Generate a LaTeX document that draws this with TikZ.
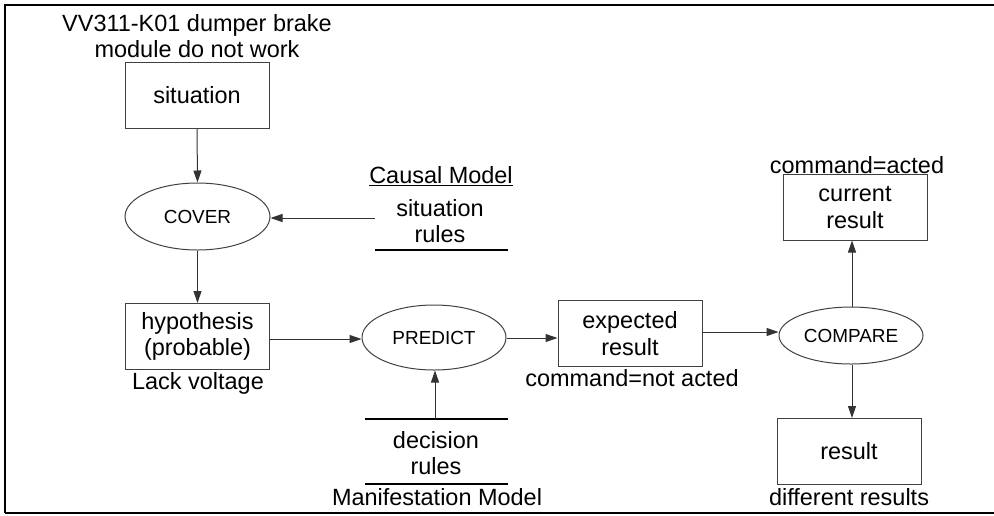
\documentclass[tikz,border=0pt]{standalone}
\usepackage{fontspec}
\setmainfont{Liberation Sans}
\usetikzlibrary{arrows.meta,shapes.geometric}
\begin{document}
\begin{tikzpicture}[x=0.75pt,y=-0.75pt,
  txt/.style={inner sep=0pt,align=center,font=\fontsize{17.6}{20}\selectfont},
  boxnode/.style={draw=black!75,line width=0.75pt,rectangle,minimum width=108pt,minimum height=49.5pt,inner sep=0pt,align=center,font=\fontsize{17.6}{20}\selectfont},
  ellnode/.style={draw=black!75,line width=0.75pt,ellipse,inner sep=0pt,align=center,font=\fontsize{14.2}{16}\selectfont},
  conn/.style={draw=black!80,line width=0.75pt,-{Triangle[length=9pt,width=6pt]}},
  bar/.style={line width=2.2pt,black},
  frame/.style={line width=2pt,black}]
\useasboundingbox (0,0) rectangle (994,515);
% frame
\draw[frame] (5,513) -- (5,5) -- (994,5);
\draw[frame] (5,513) -- (994,513);
% left column
\node[txt] (title) at (197,36) {VV311-K01 dumper brake\\module do not work};
\node[boxnode] (sit) at (197,95) {situation};
\node[ellnode,minimum width=108.75pt,minimum height=50.25pt] (cover) at (197.5,216.5) {COVER};
\node[boxnode] (hyp) at (197.5,336.5) {hypothesis\\(probable)};
\node[txt] (lack) at (198,383) {Lack voltage};
% causal model
\node[txt] (causal) at (441,176) {\underline{Causal Model}};
\node[txt] (srules) at (440,221) {situation\\rules};
\coordinate (cb1) at (375,250);
\coordinate (cb2) at (508,250);
\draw[bar] (cb1) -- (cb2);
\coordinate (cin) at (375,218);
% predict
\node[ellnode,minimum width=108pt,minimum height=48.75pt] (pred) at (434,337.5) {PREDICT};
\coordinate (db1) at (365,419);
\coordinate (db2) at (508,419);
\coordinate (db3) at (365,484);
\coordinate (db4) at (508,484);
\draw[bar] (db1) -- (db2);
\draw[bar] (db3) -- (db4);
\node[txt] (drules) at (436,453) {decision\\rules};
\node[txt] (manif) at (437,497) {Manifestation Model};
\coordinate (din) at (435,419);
% expected
\node[boxnode] (exp) at (630,333.5) {expected\\result};
\node[txt] (notacted) at (632,378) {command=not acted};
% compare
\node[ellnode,minimum width=108pt,minimum height=42.75pt] (comp) at (851,335.5) {COMPARE};
\node[boxnode] (cur) at (855,207.5) {current\\result};
\node[txt] (acted) at (857,165) {command=acted};
\node[boxnode] (res) at (849,451) {result};
\node[txt] (diff) at (849,497) {different results};
% connectors
\draw[conn] (sit.south) -- (cover.north);
\draw[conn] (cover.south) -- (hyp.north);
\draw[conn] (cin) -- (cin -| cover.east);
\draw[conn] (hyp.east |- 0,339) -- (pred.west |- 0,339);
\draw[conn] (din) -- (din |- pred.south);
\draw[conn] (pred.east |- 0,338) -- (exp.west |- 0,338);
\draw[conn] (exp.east |- 0,332) -- (comp.west |- 0,332);
\draw[conn] (852,307) -- (852,240.5);
\draw[conn] (comp.south -| 852,0) -- (852,418);
\end{tikzpicture}
\end{document}
